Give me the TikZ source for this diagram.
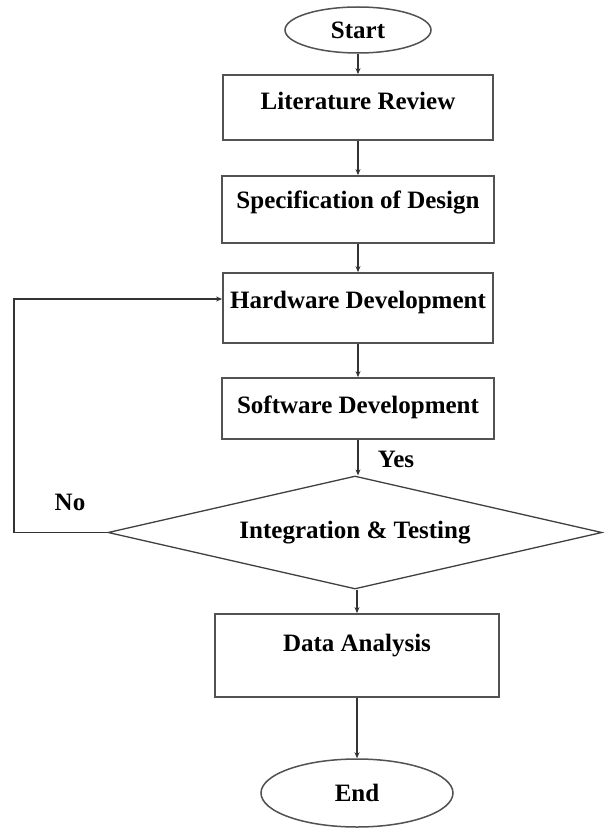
\documentclass[tikz,border=0pt]{standalone}
\usepackage{fontspec}
\setmainfont{Liberation Serif}
\usetikzlibrary{shapes.geometric,arrows.meta}
\begin{document}
\begin{tikzpicture}[x=1pt,y=-1pt,
  every node/.style={font=\fontsize{25}{30}\selectfont\bfseries, text=black},
  procbox/.style={draw=black!68, line width=1.8pt, rectangle, inner sep=0pt, text height=17pt},
  term/.style={draw=black!68, line width=1.5pt, ellipse, inner sep=0pt, text height=17pt, text depth=0pt},
  decide/.style={draw=black!75, line width=1.3pt, diamond, aspect=4.39, inner sep=0pt, text height=17pt},
  conn/.style={draw=black!80, line width=1.4pt, -{Stealth[length=6pt,width=5pt]}},
  lbl/.style={inner sep=0pt}
]
\fill[white] (0,0) rectangle (603,829);
\useasboundingbox (0,0) rectangle (603,829);

\node[term, minimum width=146pt, minimum height=46pt] (start) at (358,30) {Start};
\node[procbox, minimum width=270pt, minimum height=65pt, text depth=13.4pt] (lit) at (358,107.5) {Literature Review};
\node[procbox, minimum width=272pt, minimum height=67pt, text depth=19.4pt] (spec) at (358,209.5) {Specification of Design};
\node[procbox, minimum width=270pt, minimum height=70pt, text depth=16.4pt] (hw) at (358,308) {Hardware Development};
\node[procbox, minimum width=272pt, minimum height=61pt, text depth=7.4pt] (sw) at (358,408.5) {Software Development};
\node[decide, minimum width=494pt, minimum height=113pt, text depth=5pt] (dia) at (355,532.5) {Integration \& Testing};
\node[procbox, minimum width=284pt, minimum height=83pt, text depth=25.4pt] (data) at (357,655.5) {Data Analysis};
\node[term, minimum width=192pt, minimum height=68pt] (end) at (357,793) {End};

\node[lbl] (yes) at (396,459) {Yes};
\node[lbl] (no) at (70,502) {No};

\coordinate (loopx) at (14,0);

\draw[conn] (start.south) -- (start.south |- lit.north);
\draw[conn] (lit.south) -- (lit.south |- spec.north);
\draw[conn] (spec.south) -- (spec.south |- hw.north);
\draw[conn] (hw.south) -- (hw.south |- sw.north);
\draw[conn] (sw.south) -- (dia.north -| sw.south);
\draw[conn] (dia.south -| data.north) -- (data.north);
\draw[conn] (data.south) -- (data.south |- end.north);
\draw[conn] (dia.west) -- (dia.west -| loopx) |- ([yshift=9pt]hw.west);
\end{tikzpicture}
\end{document}
